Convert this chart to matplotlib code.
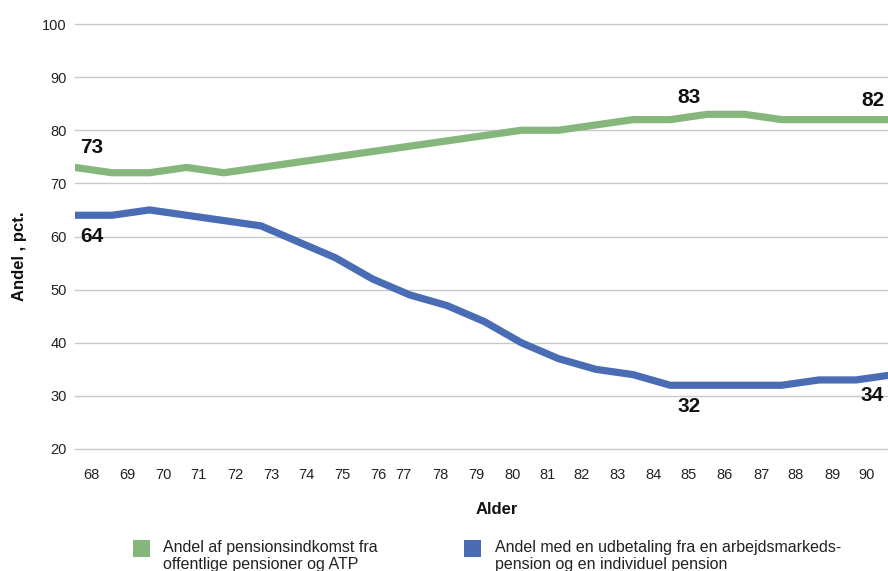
import matplotlib
matplotlib.use("Agg")
import matplotlib.pyplot as plt
from matplotlib.patches import Rectangle

plt.rcParams['font.family'] = ['Liberation Sans', 'DejaVu Sans']

# ---- data ----
ages = list(range(68, 91))
green_vals = [73, 72, 72, 73, 72, 73, 74, 75, 76, 77, 78, 79, 80, 80, 81, 82, 82, 83, 83, 82, 82, 82, 82]
blue_vals = [64, 64, 65, 64, 63, 62, 59, 56, 52, 49, 47, 44, 40, 37, 35, 34, 32, 32, 32, 32, 33, 33, 34]
tick_labels = [str(a) for a in ages]
green_name = "Andel af pensionsindkomst fra\noffentlige pensioner og ATP"
blue_name = "Andel med en udbetaling fra en arbejdsmarkeds-\npension og en individuel pension"
label_ages = [68, 85, 90]

# ---- layout (tick label placement as in reference, in index units) ----
tick_pos = [0.45, 1.42, 2.39, 3.31, 4.30, 5.27, 6.21, 7.18, 8.15, 8.82, 9.81, 10.78,
            11.75, 12.69, 13.62, 14.57, 15.54, 16.50, 17.47, 18.45, 19.38, 20.35, 21.29]

GREEN = "#85b77d"
BLUE = "#4a6cb5"

W, H = 888, 571
fig = plt.figure(figsize=(W / 100, H / 100), dpi=100)
ax = fig.add_axes([75 / W, 1 - 449 / H, 1 - 75 / W, (449 - 24) / H])

x = list(range(len(ages)))
ax.plot(x, green_vals, color=GREEN, lw=5.2, solid_joinstyle='miter', zorder=3)
ax.plot(x, blue_vals, color=BLUE, lw=5.2, solid_joinstyle='miter', zorder=3)

ax.set_xlim(0, (888 - 75) / 37.2)
ax.set_ylim(20, 100)
ax.set_yticks(range(20, 101, 10))
ax.set_xticks(tick_pos)
ax.set_xticklabels(tick_labels)
ax.grid(axis='y', color='#c8c8c8', lw=1.0)
for gl in ax.get_ygridlines():
    gl.set_clip_on(False)
ax.set_axisbelow(True)
for s in ax.spines.values():
    s.set_visible(False)
ax.tick_params(axis='both', length=0, labelsize=10.5, colors='#222222')
ax.tick_params(axis='x', pad=14)
ax.tick_params(axis='y', pad=6)

# data labels
for a in label_ages:
    i = ages.index(a)
    xp = tick_pos[i]
    dx = 4 if a == ages[-1] else 0
    gy = 12 if i == 17 else 14
    ax.annotate(str(green_vals[i]), (xp, green_vals[i]), xytext=(dx, gy),
                textcoords='offset points', ha='center', va='center',
                fontsize=15, fontweight='bold', color='#111111', annotation_clip=False)
    ax.annotate(str(blue_vals[i]), (xp, blue_vals[i]), xytext=(dx, -15),
                textcoords='offset points', ha='center', va='center',
                fontsize=15, fontweight='bold', color='#111111', annotation_clip=False)

fig.text(20 / W, 1 - 256 / H, "Andel , pct.", rotation=90, ha='center', va='center',
         fontsize=12, fontweight='bold', color='#111111')
fig.text(497 / W, 1 - 509 / H, "Alder", ha='center', va='center',
         fontsize=12, fontweight='bold', color='#111111')

# legend
for (sx, tx, col, name) in [(133, 163, GREEN, green_name), (464, 495, BLUE, blue_name)]:
    fig.patches.append(Rectangle((sx / W, 1 - 557 / H), 17 / W, 17 / H,
                                 transform=fig.transFigure, facecolor=col, edgecolor='none'))
    fig.text(tx / W, 1 - 540 / H, name, ha='left', va='top', fontsize=11.5,
             color='#222222', linespacing=1.15)

fig.savefig("out.png", dpi=100)
